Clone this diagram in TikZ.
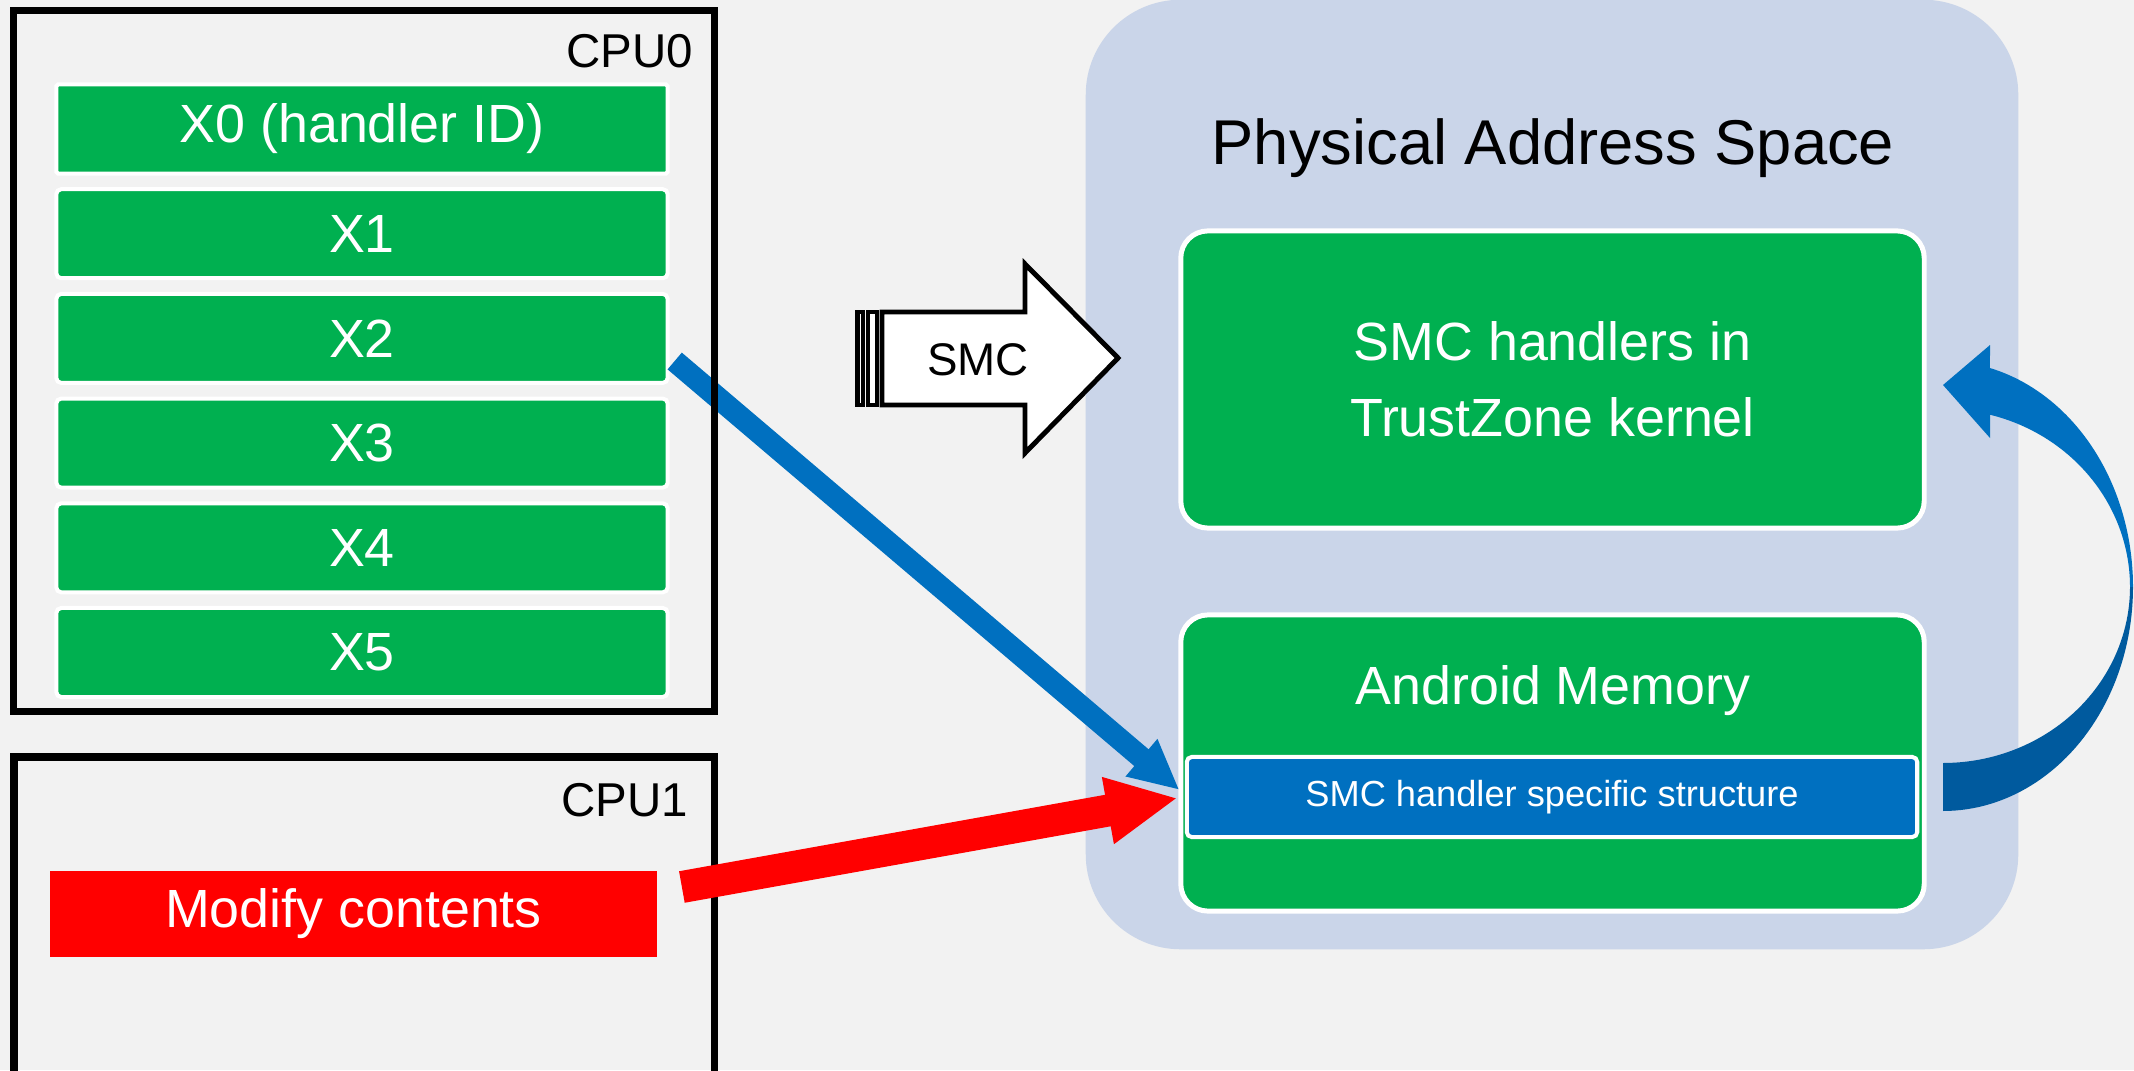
\documentclass[tikz,border=0pt]{standalone}
\usepackage{fontspec}
\setmainfont{Liberation Sans}
\usetikzlibrary{arrows.meta,calc}
\definecolor{bgc}{HTML}{F2F2F2}
\definecolor{pasc}{HTML}{CAD5E9}
\definecolor{grn}{HTML}{00B050}
\definecolor{blu}{HTML}{0070C0}
\definecolor{dblu}{HTML}{005A9E}
\definecolor{rd}{HTML}{FF0000}
\begin{document}
\begin{tikzpicture}[x=0.01cm,y=-0.01cm,
  bigfont/.style={font=\fontsize{15.3pt}{21.6pt}\selectfont},
  reg/.style={draw=white, line width=1.14pt, fill=grn, rounded corners=1.4pt,
    minimum width=6.11cm, minimum height=0.89cm, inner sep=0pt, text=white, bigfont},
  membox/.style={draw=white, line width=1.42pt, fill=grn, rounded corners=7.7pt,
    minimum width=7.43cm, inner sep=0pt, text=white, bigfont, align=center},
  cpubox/.style={draw=black, line width=2pt},
  cpulabel/.style={font=\fontsize{13.5pt}{16pt}\selectfont, anchor=base east, inner sep=0pt},
  fatarrow/.style={line cap=butt},
]
\useasboundingbox (0,0) rectangle (2134,1070);
\fill[bgc] (0,0) rectangle (2134,1070);

% Physical address space
\node[fill=pasc, rounded corners=27pt, minimum width=9.32cm, minimum height=9.49cm, inner sep=0pt] (pas) at (1552,474.5) {};
\node[font=\fontsize{18pt}{21pt}\selectfont, anchor=base, inner sep=0pt] (pastitle) at (1553,165) {Physical Address Space};

\node[membox, minimum height=2.97cm] (smch) at (1552.5,379.5) {SMC handlers in\\TrustZone kernel};
\node[membox, minimum height=2.96cm] (andr) at (1552.5,763) {};
\node[bigfont, text=white, anchor=base, inner sep=0pt] (andrlabel) at (1553,704) {Android Memory};
\node[draw=white, line width=1.14pt, fill=blu, rounded corners=1.4pt, minimum width=7.30cm, minimum height=0.80cm,
  inner sep=0pt, text=white, font=\fontsize{10.3pt}{12pt}\selectfont] (st) at (1552,797) {SMC handler specific structure};

% registers
\node[reg, rounded corners=0.5pt] (x0) at (362,129) {X0 (handler ID)};
\node[reg] (x1) at (362,233.7) {X1};
\node[reg] (x2) at (362,338.4) {X2};
\node[reg] (x3) at (362,443.1) {X3};
\node[reg] (x4) at (362,547.8) {X4};
\node[reg] (x5) at (362,652.5) {X5};

% blue arrow from X2 to structure
\draw[fatarrow, blu, line width=6.26pt, -{Triangle[width=12.9pt,length=14.2pt]}]
  ($(x2.east)+(5,22.6)$) -- ($(st.west)+(-5.3,-7)$);

% CPU0 box
\node[cpubox, minimum width=7.009cm, minimum height=7.002cm, inner sep=0pt] (cpu0) at (364.2,360.9) {};
\node[cpulabel] (cpu0l) at (694,68) {CPU0};

% CPU1 box
\draw[cpubox] (14,1075) -- (14,757) -- (714.6,757) -- (714.6,1075);
\node[cpulabel] (cpu1l) at (689,816) {CPU1};
\node[fill=rd, minimum width=6.06cm, minimum height=0.86cm, inner sep=0pt, text=white, bigfont] (mod) at (353.5,914) {Modify contents};

% red arrow
\draw[fatarrow, rd, line width=9.1pt, -{Triangle[width=17.8pt,length=20.2pt]}]
  ($(mod.east)+(24.5,-27)$) -- ($(st.west)+(-7,1)$);

% SMC striped arrow
\draw[black, line width=1.3pt, fill=white] (857.5,312) rectangle (863,405);
\draw[black, line width=1.3pt, fill=white] (868,312) rectangle (877,405);
\draw[black, line width=1.4pt, fill=white, line join=miter]
  (882,312) -- (1025,312) -- (1025,264) -- (1118,358) -- (1025,453) -- (1025,405) -- (882,405) -- cycle;
\node[font=\fontsize{13pt}{15pt}\selectfont, anchor=base, inner sep=0pt] (smc) at (978,375) {SMC};

% curved arrow back to handlers
\fill[blu] plot[domain=-75.7:0,samples=50] ({1943+190*cos(\x)},{587+226*sin(\x)})
  -- plot[domain=0:-75.4,samples=50] ({1943+187*cos(\x)},{587+178*sin(\x)})
  -- (1990,438) -- (1943,385) -- (1990,345) -- cycle;
\fill[dblu] plot[domain=0:90,samples=50] ({1943+190*cos(\x)},{587+224*sin(\x)})
  -- (1943,763)
  -- plot[domain=90:0,samples=50] ({1943+187*cos(\x)},{587+176*sin(\x)}) -- cycle;
\end{tikzpicture}
\end{document}
